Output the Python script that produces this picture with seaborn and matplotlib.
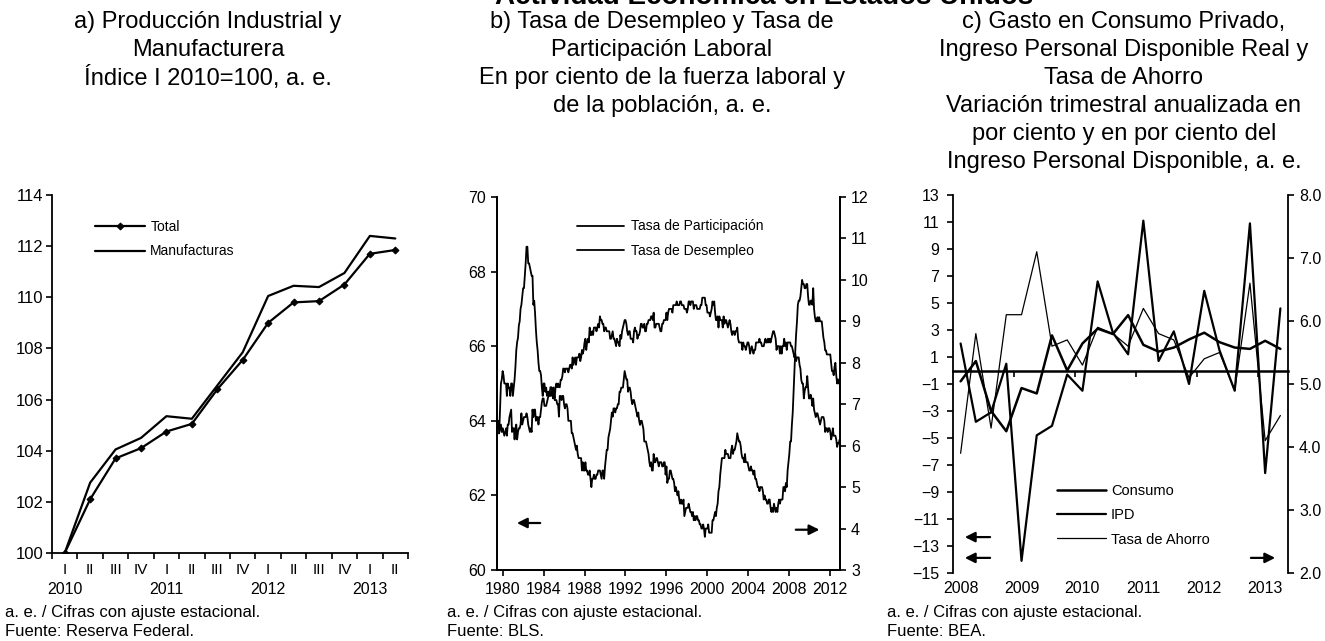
import matplotlib

matplotlib.use("Agg")
import matplotlib.pyplot as plt
import numpy as np
import pandas as pd
import seaborn as sns

FIG_W, FIG_H, DPI = 1325, 641, 100

# a) Producción industrial y manufacturera (índice 2010=100, trimestral)
quarter_labels_a = ["I", "II", "III", "IV", "I", "II", "III", "IV", "I", "II", "III", "IV", "I", "II"]
year_labels_a = ["2010", "2011", "2012", "2013"]
total = [100.0, 102.1, 103.7, 104.1, 104.75, 105.05, 106.4, 107.55, 109.0, 109.8, 109.85, 110.5, 111.7, 111.85]
manufacturas = [100.0, 102.75, 104.05, 104.5, 105.35, 105.25, 106.55, 107.85, 110.05, 110.45, 110.4, 110.95, 112.4, 112.3]

# b) Tasa de desempleo y de participación (mensual, ene-1980 a jun-2013)
desempleo = [
    6.3, 6.3, 6.3, 6.9, 7.5, 7.6, 7.8, 7.7, 7.5, 7.5, 7.5, 7.2,
    7.5, 7.4, 7.4, 7.2, 7.5, 7.5, 7.2, 7.4, 7.6, 7.9, 8.3, 8.5,
    8.6, 8.9, 9.0, 9.3, 9.4, 9.6, 9.8, 9.8, 10.1, 10.4, 10.8, 10.8,
    10.4, 10.4, 10.3, 10.2, 10.1, 10.1, 9.4, 9.5, 9.2, 8.8, 8.5, 8.3,
    8.0, 7.8, 7.8, 7.7, 7.4, 7.2, 7.5, 7.5, 7.3, 7.4, 7.2, 7.3,
    7.3, 7.2, 7.2, 7.3, 7.2, 7.4, 7.4, 7.1, 7.1, 7.1, 7.0, 7.0,
    6.7, 7.2, 7.2, 7.1, 7.2, 7.2, 7.0, 6.9, 7.0, 7.0, 6.9, 6.6,
    6.6, 6.6, 6.6, 6.3, 6.3, 6.2, 6.1, 6.0, 5.9, 6.0, 5.8, 5.7,
    5.7, 5.7, 5.7, 5.4, 5.6, 5.4, 5.4, 5.6, 5.4, 5.4, 5.3, 5.3,
    5.4, 5.2, 5.0, 5.2, 5.2, 5.3, 5.2, 5.2, 5.3, 5.3, 5.4, 5.4,
    5.4, 5.3, 5.2, 5.4, 5.4, 5.2, 5.5, 5.7, 5.9, 5.9, 6.2, 6.3,
    6.4, 6.6, 6.8, 6.7, 6.9, 6.9, 6.8, 6.9, 6.9, 7.0, 7.0, 7.3,
    7.3, 7.4, 7.4, 7.4, 7.6, 7.8, 7.7, 7.6, 7.6, 7.3, 7.4, 7.4,
    7.3, 7.1, 7.0, 7.1, 7.1, 7.0, 6.9, 6.8, 6.7, 6.8, 6.6, 6.5,
    6.6, 6.6, 6.5, 6.4, 6.1, 6.1, 6.1, 6.0, 5.9, 5.8, 5.6, 5.5,
    5.6, 5.4, 5.4, 5.8, 5.6, 5.6, 5.7, 5.7, 5.6, 5.5, 5.6, 5.6,
    5.6, 5.5, 5.5, 5.6, 5.6, 5.3, 5.5, 5.1, 5.2, 5.2, 5.4, 5.4,
    5.3, 5.2, 5.2, 5.1, 4.9, 5.0, 4.9, 4.8, 4.9, 4.7, 4.6, 4.7,
    4.6, 4.6, 4.7, 4.3, 4.4, 4.5, 4.5, 4.5, 4.6, 4.5, 4.4, 4.4,
    4.3, 4.4, 4.2, 4.3, 4.2, 4.3, 4.3, 4.2, 4.2, 4.1, 4.1, 4.0,
    4.0, 4.1, 4.0, 3.8, 4.0, 4.0, 4.0, 4.1, 3.9, 3.9, 3.9, 3.9,
    4.2, 4.2, 4.3, 4.4, 4.3, 4.5, 4.6, 4.9, 5.0, 5.3, 5.5, 5.7,
    5.7, 5.7, 5.7, 5.9, 5.8, 5.8, 5.8, 5.7, 5.7, 5.7, 5.9, 6.0,
    5.8, 5.9, 5.9, 6.0, 6.1, 6.3, 6.2, 6.1, 6.1, 6.0, 5.8, 5.7,
    5.7, 5.6, 5.8, 5.6, 5.6, 5.6, 5.5, 5.4, 5.4, 5.5, 5.4, 5.4,
    5.3, 5.4, 5.2, 5.2, 5.1, 5.0, 5.0, 4.9, 5.0, 5.0, 5.0, 4.9,
    4.7, 4.8, 4.7, 4.7, 4.6, 4.6, 4.7, 4.7, 4.5, 4.4, 4.5, 4.4,
    4.6, 4.5, 4.4, 4.5, 4.4, 4.6, 4.7, 4.6, 4.7, 4.7, 4.7, 5.0,
    5.0, 4.9, 5.1, 5.0, 5.4, 5.6, 5.8, 6.1, 6.1, 6.5, 6.8, 7.3,
    7.8, 8.3, 8.7, 9.0, 9.4, 9.5, 9.5, 9.6, 9.8, 10.0, 9.9, 9.9,
    9.8, 9.8, 9.9, 9.9, 9.6, 9.4, 9.4, 9.5, 9.5, 9.4, 9.8, 9.3,
    9.1, 9.0, 9.0, 9.1, 9.0, 9.1, 9.0, 9.0, 9.0, 8.8, 8.6, 8.5,
    8.3, 8.3, 8.2, 8.2, 8.2, 8.2, 8.2, 8.0, 7.8, 7.8, 7.7, 7.9,
    8.0, 7.7, 7.5, 7.6, 7.5, 7.5,
]
participacion = [
    64.0, 64.0, 63.7, 63.8, 63.9, 63.7, 63.8, 63.7, 63.6, 63.7, 63.8, 63.6,
    63.9, 63.9, 64.1, 64.2, 64.3, 63.7, 63.8, 63.8, 63.5, 63.8, 63.9, 63.5,
    63.7, 63.8, 63.8, 63.9, 64.2, 63.9, 64.0, 64.1, 64.1, 64.1, 64.2, 64.1,
    63.9, 63.8, 63.7, 63.8, 63.7, 64.3, 64.1, 64.3, 64.3, 64.0, 64.1, 64.1,
    63.9, 64.1, 64.1, 64.3, 64.5, 64.6, 64.6, 64.4, 64.4, 64.4, 64.5, 64.6,
    64.7, 64.7, 64.9, 64.9, 64.8, 64.6, 64.7, 64.6, 64.9, 65.0, 64.9, 65.0,
    64.9, 64.9, 65.1, 65.1, 65.2, 65.4, 65.4, 65.3, 65.4, 65.4, 65.4, 65.3,
    65.4, 65.5, 65.5, 65.4, 65.7, 65.5, 65.6, 65.7, 65.5, 65.7, 65.7, 65.7,
    65.8, 65.6, 65.7, 65.9, 65.8, 65.9, 66.1, 66.2, 65.9, 66.1, 66.2, 66.1,
    66.5, 66.3, 66.3, 66.4, 66.3, 66.5, 66.5, 66.5, 66.4, 66.5, 66.6, 66.5,
    66.8, 66.7, 66.7, 66.6, 66.6, 66.4, 66.5, 66.5, 66.4, 66.4, 66.4, 66.4,
    66.2, 66.2, 66.3, 66.4, 66.2, 66.2, 66.1, 66.0, 66.2, 66.1, 66.1, 66.0,
    66.3, 66.2, 66.4, 66.5, 66.6, 66.7, 66.7, 66.6, 66.4, 66.3, 66.4, 66.4,
    66.2, 66.2, 66.2, 66.1, 66.4, 66.5, 66.4, 66.4, 66.2, 66.3, 66.3, 66.4,
    66.6, 66.6, 66.5, 66.5, 66.6, 66.4, 66.4, 66.6, 66.6, 66.7, 66.7, 66.7,
    66.8, 66.8, 66.7, 66.9, 66.5, 66.5, 66.6, 66.6, 66.6, 66.6, 66.5, 66.4,
    66.4, 66.6, 66.6, 66.7, 66.7, 66.7, 66.9, 66.7, 66.9, 67.0, 67.0, 67.0,
    67.0, 66.9, 67.1, 67.1, 67.1, 67.1, 67.2, 67.1, 67.1, 67.1, 67.2, 67.2,
    67.1, 67.1, 67.1, 67.0, 67.0, 67.0, 66.9, 67.0, 67.2, 67.2, 67.1, 67.2,
    67.2, 67.2, 67.0, 67.1, 67.1, 67.1, 67.0, 67.0, 67.0, 67.0, 67.1, 67.1,
    67.3, 67.3, 67.3, 67.3, 67.1, 67.1, 66.9, 66.9, 66.9, 66.8, 66.9, 67.0,
    67.2, 67.1, 67.2, 66.9, 66.7, 66.7, 66.8, 66.5, 66.8, 66.7, 66.7, 66.7,
    66.5, 66.8, 66.6, 66.7, 66.7, 66.6, 66.5, 66.6, 66.7, 66.6, 66.4, 66.3,
    66.4, 66.4, 66.3, 66.4, 66.4, 66.5, 66.2, 66.1, 66.1, 66.1, 66.1, 65.9,
    66.1, 66.0, 66.0, 65.9, 66.0, 66.1, 66.1, 66.0, 65.8, 65.9, 66.0, 65.9,
    65.8, 65.9, 65.9, 66.1, 66.1, 66.1, 66.1, 66.2, 66.1, 66.1, 66.0, 66.0,
    66.0, 66.1, 66.2, 66.1, 66.1, 66.2, 66.1, 66.2, 66.1, 66.2, 66.3, 66.4,
    66.4, 66.3, 66.2, 65.9, 66.0, 66.0, 66.0, 65.8, 66.0, 65.8, 66.0, 66.0,
    66.2, 66.0, 66.1, 65.9, 66.1, 66.1, 66.1, 66.1, 66.0, 66.0, 65.9, 65.8,
    65.7, 65.8, 65.6, 65.7, 65.7, 65.7, 65.5, 65.4, 65.1, 65.0, 65.0, 64.6,
    64.8, 64.9, 64.9, 65.2, 64.9, 64.6, 64.6, 64.7, 64.6, 64.4, 64.6, 64.3,
    64.2, 64.1, 64.2, 64.2, 64.1, 64.0, 63.9, 64.0, 64.1, 64.1, 64.1, 64.0,
    63.7, 63.8, 63.8, 63.7, 63.8, 63.8, 63.7, 63.5, 63.6, 63.8, 63.6, 63.6,
    63.6, 63.5, 63.3, 63.4, 63.4, 63.5,
]
year_ticks_b = [1980, 1984, 1988, 1992, 1996, 2000, 2004, 2008, 2012]

# c) Consumo, ingreso disponible real (var. % trim. anualizada) y tasa de ahorro (%)
year_labels_c = ["2008", "2009", "2010", "2011", "2012", "2013"]
consumo = [-0.8, 0.7, -3.0, -4.5, -1.3, -1.7, 2.6, 0.0, 2.0, 3.1, 2.7, 4.1,
           1.9, 1.4, 1.7, 2.3, 2.8, 2.1, 1.7, 1.6, 2.2, 1.6]
ipd = [2.0, -3.8, -3.1, 0.5, -14.1, -4.8, -4.1, -0.3, -1.5, 6.6, 2.8, 1.2,
       11.1, 0.7, 2.9, -1.0, 5.9, 1.5, -1.5, 10.9, -7.6, 4.6]
ahorro = [3.9, 5.8, 4.3, 6.1, 6.1, 7.1, 5.6, 5.7, 5.3, 5.9, 5.8, 5.6,
          6.2, 5.8, 5.7, 5.1, 5.4, 5.5, 4.9, 6.6, 4.1, 4.5]

titles = [
    (["a) Producción Industrial y", "Manufacturera", "Índice I 2010=100, a. e."], 208),
    (["b) Tasa de Desempleo y Tasa de", "Participación Laboral",
      "En por ciento de la fuerza laboral y", "de la población, a. e."], 662),
    (["c) Gasto en Consumo Privado,", "Ingreso Personal Disponible Real y", "Tasa de Ahorro",
      "Variación trimestral anualizada en", "por ciento y en por ciento del",
      "Ingreso Personal Disponible, a. e."], 1124),
]
footers = [
    (["a. e. / Cifras con ajuste estacional.", "Fuente: Reserva Federal."], 5),
    (["a. e. / Cifras con ajuste estacional.", "Fuente: BLS."], 447),
    (["a. e. / Cifras con ajuste estacional.", "Fuente: BEA."], 887),
]


def px_rect(left, top, right, bottom):
    return [left / FIG_W, 1 - bottom / FIG_H, (right - left) / FIG_W, (bottom - top) / FIG_H]


def add_arrow(ax, start, end):
    ax.annotate("", xy=end, xytext=start, xycoords="axes fraction", textcoords="axes fraction",
                arrowprops=dict(arrowstyle="-|>", color="black", lw=1.6, mutation_scale=15))


sns.set_theme(style="ticks", rc={
    "axes.edgecolor": "black", "axes.linewidth": 1.3,
    "text.color": "black", "axes.labelcolor": "black",
    "xtick.color": "black", "ytick.color": "black",
    "xtick.major.width": 1.2, "ytick.major.width": 1.2,
    "xtick.major.size": 4, "ytick.major.size": 4,
})
plt.rcParams["font.family"] = ["Liberation Sans", "DejaVu Sans"]

fig = plt.figure(figsize=(FIG_W / DPI, FIG_H / DPI), dpi=DPI)
fig.patch.set_facecolor("white")

# ---------------- panel a ----------------
df_a = pd.DataFrame({"q": range(len(total)), "Total": total, "Manufacturas": manufacturas})
ax_a = fig.add_axes(px_rect(52, 195, 408, 553))
sns.lineplot(data=df_a, x="q", y="Total", ax=ax_a, color="black", lw=1.6, marker="D", ms=3.5,
             markeredgecolor="black", label="Total", legend=False)
sns.lineplot(data=df_a, x="q", y="Manufacturas", ax=ax_a, color="black", lw=1.6,
             label="Manufacturas", legend=False)
ax_a.set_xlim(-0.5, len(total) - 0.5)
ax_a.set_ylim(100, 114)
ax_a.set_yticks(range(100, 115, 2))
ax_a.set_xticks(np.arange(len(total) + 1) - 0.5)
ax_a.set_xticklabels([])
ax_a.set_xticks(range(len(total)), minor=True)
ax_a.set_xticklabels(quarter_labels_a, minor=True)
ax_a.tick_params(axis="x", which="minor", length=0, pad=7, labelsize=11)
ax_a.tick_params(axis="y", labelsize=12, pad=2)
sec_a = ax_a.secondary_xaxis("bottom")
sec_a.set_xticks([i for i, q in enumerate(quarter_labels_a) if q == "I"], year_labels_a)
sec_a.tick_params(length=0, pad=21, labelsize=11.5)
sec_a.spines["bottom"].set_visible(False)
sns.despine(ax=ax_a)
ax_a.set_xlabel("")
ax_a.set_ylabel("")
ax_a.legend(loc="upper left", bbox_to_anchor=(0.12, 0.93), frameon=False, fontsize=10,
            handlelength=3.6, handletextpad=0.4, labelspacing=0.75, borderpad=0, borderaxespad=0)

# ---------------- panel b ----------------
n_b = len(desempleo)
df_b = pd.DataFrame({
    "fecha": 1980 + np.arange(n_b) / 12,
    "desempleo": desempleo,
    "participacion": participacion,
})
ax_b = fig.add_axes(px_rect(497, 197, 840, 570))
ax_b2 = ax_b.twinx()
sns.lineplot(data=df_b, x="fecha", y="participacion", ax=ax_b, color="black", lw=1.3,
             estimator=None, sort=False, label="Tasa de Participación", legend=False)
sns.lineplot(data=df_b, x="fecha", y="desempleo", ax=ax_b2, color="black", lw=1.3,
             estimator=None, sort=False, label="Tasa de Desempleo", legend=False)
ax_b.set_xlim(1979.95, 2013.45)
ax_b.set_ylim(60, 70)
ax_b2.set_ylim(3, 12)
ax_b.set_yticks(range(60, 71, 2))
ax_b2.set_yticks(range(3, 13))
ax_b.set_xticks([y + 0.5 for y in year_ticks_b], [str(y) for y in year_ticks_b])
ax_b.tick_params(axis="x", labelsize=11.5, pad=5)
ax_b.tick_params(axis="y", labelsize=11.5, pad=4)
ax_b2.tick_params(axis="y", labelsize=11.5, pad=4)
for a in (ax_b, ax_b2):
    a.spines["top"].set_visible(False)
    a.set_xlabel("")
    a.set_ylabel("")
h1, l1 = ax_b.get_legend_handles_labels()
h2, l2 = ax_b2.get_legend_handles_labels()
ax_b2.legend(h1 + h2, l1 + l2, loc="upper left", bbox_to_anchor=(0.233, 0.94), frameon=False,
             fontsize=10, handlelength=3.4, handletextpad=0.5, labelspacing=0.75, borderpad=0,
             borderaxespad=0)
add_arrow(ax_b, (0.134, 0.126), (0.05, 0.126))
add_arrow(ax_b, (0.863, 0.108), (0.948, 0.108))

# ---------------- panel c ----------------
df_c = pd.DataFrame({"q": range(len(consumo)), "consumo": consumo, "ipd": ipd, "ahorro": ahorro})
ax_c = fig.add_axes(px_rect(953, 195, 1288, 573))
ax_c2 = ax_c.twinx()
sns.lineplot(data=df_c, x="q", y="consumo", ax=ax_c, color="black", lw=1.8,
             label="Consumo", legend=False)
sns.lineplot(data=df_c, x="q", y="ipd", ax=ax_c, color="black", lw=1.6,
             label="IPD", legend=False)
sns.lineplot(data=df_c, x="q", y="ahorro", ax=ax_c2, color="black", lw=0.9,
             label="Tasa de Ahorro", legend=False)
ax_c.set_xlim(-0.5, len(consumo) - 0.5)
ax_c.set_ylim(-15, 13)
ax_c2.set_ylim(2, 8)
ax_c.set_yticks(range(-15, 14, 2))
ax_c2.set_yticks(range(2, 9))
ax_c2.set_yticklabels([f"{v:.1f}" for v in range(2, 9)])
ax_c.spines["bottom"].set_position(("data", 0))
ax_c.spines["bottom"].set_linewidth(1.8)
ax_c.set_xticks(np.arange(3.5, len(consumo), 4))
ax_c.set_xticklabels([])
ax_c.tick_params(axis="x", length=4)
ax_c.tick_params(axis="y", labelsize=11.5, pad=6)
ax_c2.tick_params(axis="y", labelsize=11.5, pad=4)
sec_c = ax_c.secondary_xaxis("bottom")
sec_c.set_xticks(range(0, len(consumo), 4), year_labels_c)
sec_c.tick_params(length=0, pad=6, labelsize=11.5)
sec_c.spines["bottom"].set_visible(False)
ax_c.spines["top"].set_visible(False)
ax_c.spines["right"].set_visible(False)
for side in ("top", "bottom", "left"):
    ax_c2.spines[side].set_visible(False)
for a in (ax_c, ax_c2):
    a.set_xlabel("")
    a.set_ylabel("")
h1, l1 = ax_c.get_legend_handles_labels()
h2, l2 = ax_c2.get_legend_handles_labels()
ax_c2.legend(h1 + h2, l1 + l2, loc="upper left", bbox_to_anchor=(0.31, 0.235), frameon=False,
             fontsize=10.5, handlelength=3.4, handletextpad=0.3, labelspacing=0.7, borderpad=0,
             borderaxespad=0)
add_arrow(ax_c, (0.119, 0.095), (0.027, 0.095))
add_arrow(ax_c, (0.119, 0.040), (0.027, 0.040))
add_arrow(ax_c, (0.881, 0.040), (0.970, 0.040))

# ---------------- texts ----------------
fig.text(764 / FIG_W, 1 + 3 / FIG_H, "Actividad Económica en Estados Unidos", ha="center",
         va="center", fontsize=20, fontweight="bold")
for lines, cx in titles:
    for i, line in enumerate(lines):
        fig.text(cx / FIG_W, 1 - (22 + 28 * i) / FIG_H, line, ha="center", va="center",
                 fontsize=17)
for lines, lx in footers:
    for i, line in enumerate(lines):
        fig.text(lx / FIG_W, 1 - (612 + 19 * i) / FIG_H, line, ha="left", va="center", fontsize=12)

fig.savefig("out.png", dpi=DPI, facecolor="white")
